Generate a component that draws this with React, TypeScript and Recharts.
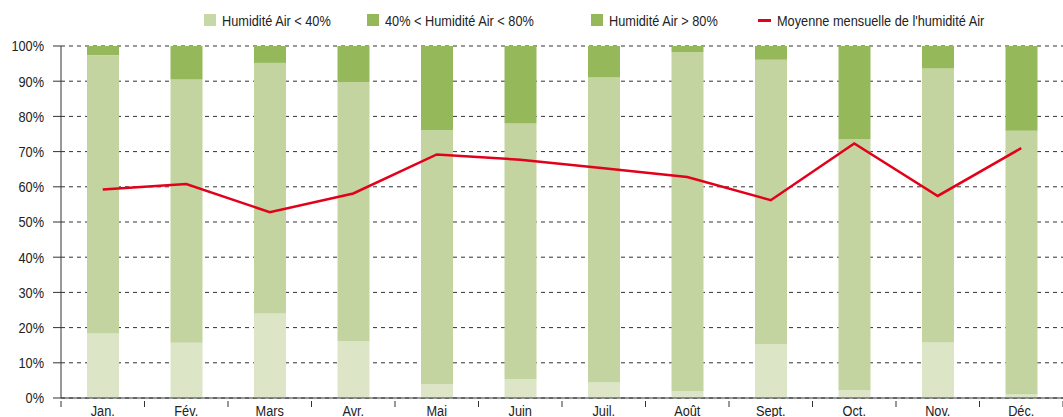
import React from 'react';
import { ComposedChart, Bar, Line, XAxis, YAxis, CartesianGrid } from 'recharts';

const categories = ['Jan.', 'Fév.', 'Mars', 'Avr.', 'Mai', 'Juin', 'Juil.', 'Août', 'Sept.', 'Oct.', 'Nov.', 'Déc.'];
const lowHumidity = [18.3, 15.7, 24.0, 16.2, 4.0, 5.3, 4.5, 2.0, 15.3, 2.2, 15.8, 1.0];
const midHumidity = [79.1, 74.8, 71.2, 73.6, 72.1, 72.7, 86.6, 96.3, 80.8, 71.3, 77.8, 74.9];
const highHumidity = [2.6, 9.5, 4.8, 10.2, 23.9, 22.0, 8.9, 1.7, 3.9, 26.5, 6.4, 24.1];
const monthlyAverage = [59.2, 60.8, 52.8, 58.1, 69.2, 67.7, 65.3, 62.8, 56.2, 72.3, 57.4, 71.0];
const yTicks = [0, 10, 20, 30, 40, 50, 60, 70, 80, 90, 100];

const legendItems = [
  { label: 'Humidité Air < 40%', color: '#c6d8a6', type: 'rect', left: 204 },
  { label: '40% < Humidité Air < 80%', color: '#95b85a', type: 'rect', left: 367 },
  { label: 'Humidité Air > 80%', color: '#95b85a', type: 'rect', left: 591 },
  { label: "Moyenne mensuelle de l'humidité Air", color: '#e2001a', type: 'line', left: 758 },
];

const data = categories.map((c, i) => ({
  month: c,
  low: lowHumidity[i],
  mid: midHumidity[i],
  high: highHumidity[i],
  avg: monthlyAverage[i],
}));

const FONT = '"Liberation Sans", Arial, sans-serif';
const NARROW = 0.85;
const FS = 15;

const XTick = (props: any) => {
  const { x, y, payload, width, index } = props;
  const half = width / categories.length / 2;
  return (
    <g>
      <line x1={x - half} y1={y - 5} x2={x - half} y2={y + 1} stroke="#333" strokeWidth={1} />
      {index === categories.length - 1 && (
        <line x1={x + half} y1={y - 5} x2={x + half} y2={y + 1} stroke="#333" strokeWidth={1} />
      )}
      <g transform={`translate(${x},${y - 1}) scale(${NARROW},1)`}>
        <text x={0} y={0} dy="0.71em" textAnchor="middle" fill="#222" fontSize={FS} fontFamily={FONT}>
          {payload.value}
        </text>
      </g>
    </g>
  );
};

const YTick = (props: any) => {
  const { x, y, payload } = props;
  return (
    <g transform={`translate(${x},${y}) scale(${NARROW},1)`}>
      <text x={0} y={0} dy="0.355em" textAnchor="end" fill="#222" fontSize={FS} fontFamily={FONT}>
        {`${payload.value}%`}
      </text>
    </g>
  );
};

export default function App() {
  return (
    <div style={{ position: 'absolute', left: 0, top: 0, width: 1063, height: 417, overflow: 'hidden', background: '#fff' }}>
      {legendItems.map((it, i) => (
        <div
          key={i}
          style={{
            position: 'absolute',
            left: it.left,
            top: 12,
            height: 16,
            display: 'flex',
            alignItems: 'center',
            fontFamily: FONT,
            fontSize: FS,
            color: '#222',
            whiteSpace: 'nowrap',
          }}
        >
          {it.type === 'rect' ? (
            <span style={{ display: 'inline-block', width: 12, height: 12, background: it.color, marginRight: 6 }} />
          ) : (
            <span style={{ display: 'inline-block', width: 13, height: 3, background: it.color, marginRight: 6 }} />
          )}
          <span style={{ display: 'inline-block', transform: `scaleX(${NARROW})`, transformOrigin: 'left center' }}>{it.label}</span>
        </div>
      ))}
      <ComposedChart width={1063} height={417} data={data} margin={{ top: 46, right: 0, bottom: 0, left: 0 }} barCategoryGap={0}>
        <CartesianGrid vertical={false} stroke="#333" strokeDasharray="4 4" />
        <XAxis
          dataKey="month"
          height={19}
          tickLine={false}
          axisLine={{ stroke: '#333' }}
          tick={<XTick />}
          interval={0}
        />
        <YAxis
          width={61}
          domain={[0, 100]}
          ticks={yTicks}
          axisLine={{ stroke: '#333' }}
          tickLine={{ stroke: '#333' }}
          tickSize={8}
          tickMargin={9}
          tick={<YTick />}
          interval={0}
        />
        <Bar dataKey="low" stackId="a" fill="#dce6c6" barSize={32} isAnimationActive={false} />
        <Bar dataKey="mid" stackId="a" fill="#c3d4a0" barSize={32} isAnimationActive={false} />
        <Bar dataKey="high" stackId="a" fill="#95b85a" barSize={32} isAnimationActive={false} />
        <Line dataKey="avg" stroke="#e2001a" strokeWidth={2.5} dot={false} type="linear" isAnimationActive={false} />
      </ComposedChart>
    </div>
  );
}
